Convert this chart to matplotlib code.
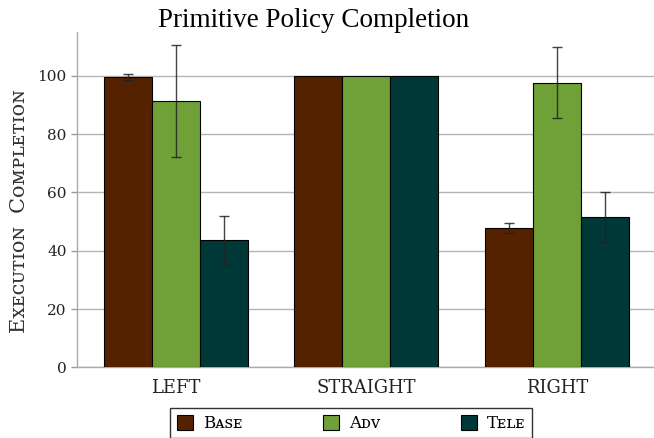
import matplotlib
matplotlib.use("Agg")
import matplotlib.pyplot as plt
from matplotlib.patches import Patch
import numpy as np

# --- DATA ---
categories = ["LEFT", "STRAIGHT", "RIGHT"]
series_names = ["Bᴀꜱᴇ", "Aᴅᴠ", "Tᴇʟᴇ"]
base_vals = [99.5, 100.0, 47.8]
base_err = [1.0, 0.0, 1.7]
adv_vals = [91.3, 100.0, 97.6]
adv_err = [19.2, 0.0, 12.1]
tele_vals = [43.6, 100.0, 51.6]
tele_err = [8.2, 0.0, 8.6]
colors = ["#552200", "#70a038", "#003838"]

serif = ["DejaVu Serif", "DejaVu Sans"]

fig = plt.figure(figsize=(6.54, 4.38), dpi=100)
ax = fig.add_axes([0.1177, 0.161, 0.8823, 0.766])

x = np.arange(len(categories))
w = 0.252
vals = [base_vals, adv_vals, tele_vals]
errs = [base_err, adv_err, tele_err]
for i in range(3):
    ax.bar(x + (i - 1) * w, vals[i], w, color=colors[i], edgecolor="black",
           linewidth=0.8, zorder=3)
    e = np.array(errs[i])
    m = e > 0
    ax.errorbar((x + (i - 1) * w)[m], np.array(vals[i])[m], yerr=e[m], fmt="none",
                ecolor="#222222", elinewidth=1.0, capsize=3.5, capthick=1.0,
                alpha=0.85, zorder=4)

ax.set_xlim(-0.52, 2.51)
ax.set_ylim(0, 115)
ax.set_yticks([0, 20, 40, 60, 80, 100])
ax.set_xticks(x)
ax.set_xticklabels(categories, family=serif, fontsize=13, color="#222222")
for lab in ax.get_yticklabels():
    lab.set_family(serif)
    lab.set_fontsize(11)
    lab.set_color("#222222")
ax.tick_params(axis="x", length=0, pad=8)
ax.set_xticks([1], minor=True)
ax.tick_params(axis="x", which="minor", length=4, color="#999999")
ax.tick_params(axis="y", length=4, color="#999999", width=1)

ax.grid(axis="y", color="#b5b5b5", linewidth=1.0, zorder=0)
ax.set_axisbelow(True)
for s in ["top", "right"]:
    ax.spines[s].set_visible(False)
for s in ["left", "bottom"]:
    ax.spines[s].set_color("#aaaaaa")
    ax.spines[s].set_linewidth(1.0)

ax.set_ylabel("Exᴇᴄᴜᴛɪᴏɴ  Cᴏᴍᴘʟᴇᴛɪᴏɴ", family=serif, fontsize=15, color="#333333")
ax.yaxis.set_label_coords(-0.083, 0.466)
fig.text(0.479, 0.982, "Primitive Policy Completion", ha="center", va="top",
         family="Liberation Serif", fontsize=19.5)

handles = [Patch(facecolor=c, edgecolor="black", linewidth=0.8) for c in colors]
leg = fig.legend(handles, series_names, loc="lower center", ncol=3,
                 bbox_to_anchor=(0.537, -0.02), frameon=True, fancybox=False,
                 edgecolor="black", handlelength=1.0, handleheight=1.0,
                 columnspacing=4.8, handletextpad=0.6,
                 prop={"family": serif, "size": 12})
leg.get_frame().set_linewidth(1.0)

fig.savefig("out.png", dpi=100)
